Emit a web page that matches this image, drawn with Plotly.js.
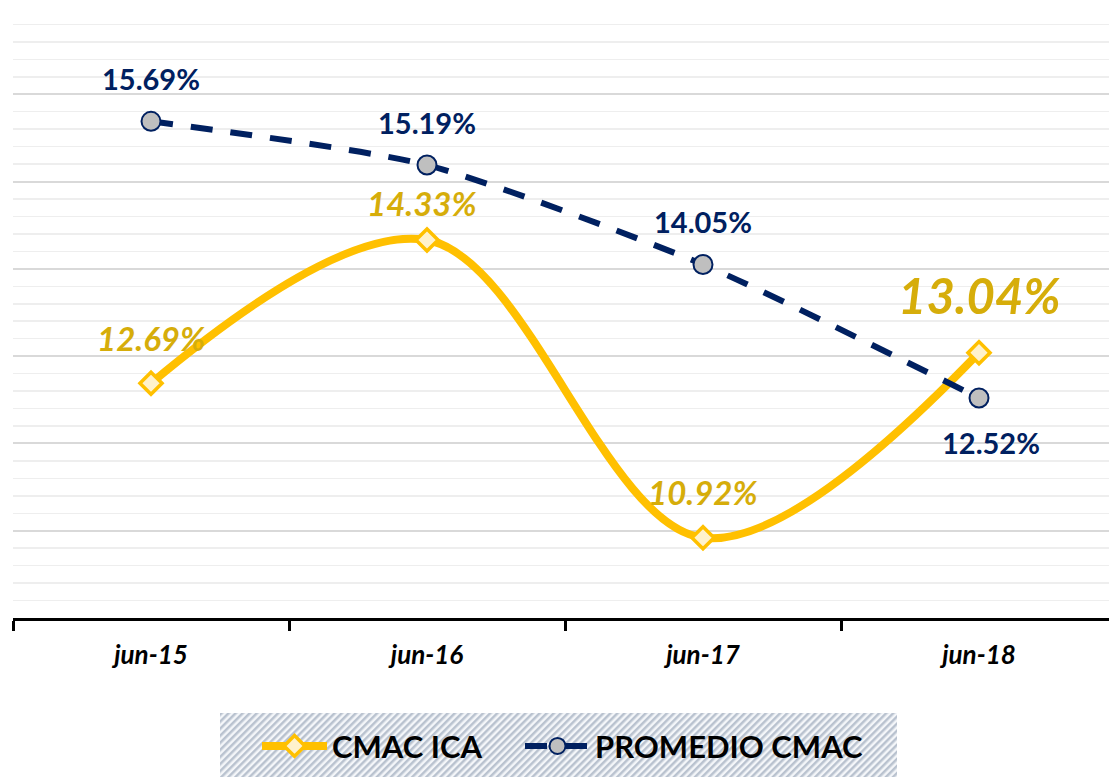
<!DOCTYPE html>
<html>
<head>
<meta charset="utf-8">
<script src="https://cdn.plot.ly/plotly-3.0.1.min.js"></script>
<style>html,body{margin:0;padding:0;background:#fff;}#chart{width:1109px;height:777px;}</style>
</head>
<body>
<div id="chart"></div>
<script>
// ---- data ----
var categories = ['jun-15', 'jun-16', 'jun-17', 'jun-18'];
var cmacIca = [12.69, 14.33, 10.92, 13.04];
var promedioCmac = [15.69, 15.19, 14.05, 12.52];
var seriesNames = ['CMAC ICA', 'PROMEDIO CMAC'];

// ---- styling ----
var FONT = 'Lato, "Noto Sans", "DejaVu Sans", sans-serif';
var GOLD = '#FFC000';
var GOLD_TEXT = '#D6AD0A';
var NAVY = '#002060';

var traces = [
  {
    x: categories, y: cmacIca, name: seriesNames[0], type: 'scatter', mode: 'lines+markers',
    legend: 'legend',
    line: {color: GOLD, width: 8, shape: 'spline', smoothing: 1},
    marker: {symbol: 'diamond', size: 17, color: '#FFF2CC', line: {color: GOLD, width: 3.5}},
    hoverinfo: 'skip'
  },
  {
    x: categories, y: promedioCmac, name: seriesNames[1], type: 'scatter', mode: 'lines+markers',
    legend: 'legend2',
    line: {color: NAVY, width: 6, dash: '22px,18px', shape: 'spline', smoothing: 0.6},
    marker: {symbol: 'circle', size: 19, color: '#BFBFBF', line: {color: NAVY, width: 2}},
    hoverinfo: 'skip'
  }
];

// label offsets (style only): [xshift, yshift, font size]
var icaShift = [[0, 45, 33], [-5, 37, 33], [0, 46, 33], [0, 58, 49]];
var promShift = [[0, 43, 29], [0, 42, 29], [0, 43, 29], [12, -44, 29]];

var annotations = [];
categories.forEach(function (c, i) {
  annotations.push({
    x: c, y: cmacIca[i], xref: 'x', yref: 'y', text: cmacIca[i].toFixed(2) + '%', showarrow: false,
    xanchor: 'center', yanchor: 'middle', xshift: icaShift[i][0], yshift: icaShift[i][1],
    font: {family: FONT, size: icaShift[i][2], color: GOLD_TEXT, weight: 'bold', style: 'italic'}
  });
  annotations.push({
    x: c, y: promedioCmac[i], xref: 'x', yref: 'y', text: promedioCmac[i].toFixed(2) + '%', showarrow: false,
    xanchor: 'center', yanchor: 'middle', xshift: promShift[i][0], yshift: promShift[i][1],
    font: {family: FONT, size: promShift[i][2], color: NAVY, weight: 'bold'}
  });
});

var hatch = '<svg xmlns="http://www.w3.org/2000/svg" width="677" height="64">' +
  '<defs><pattern id="p" width="5" height="5" patternUnits="userSpaceOnUse" patternTransform="rotate(45)">' +
  '<rect width="5" height="5" fill="#F4F6F9"/><rect width="2.5" height="5" fill="#B9C2CF"/></pattern></defs>' +
  '<rect width="677" height="64" fill="url(#p)"/></svg>';

var legendFont = {family: FONT, size: 31, color: '#000000', weight: 'bold'};

var layout = {
  width: 1109, height: 777,
  margin: {l: 13, r: 0, t: 7, b: 159},
  paper_bgcolor: '#ffffff', plot_bgcolor: '#ffffff',
  showlegend: true,
  xaxis: {
    type: 'category', range: [-0.5, 3.471], tickson: 'boundaries',
    showline: true, linecolor: '#000000', linewidth: 3,
    ticks: 'outside', ticklen: 10, tickwidth: 3, tickcolor: '#000000',
    showgrid: false, zeroline: false, ticklabelstandoff: 12,
    tickfont: {family: FONT, size: 26, color: '#000000', weight: 'bold', style: 'italic'}
  },
  yaxis: {
    range: [10, 17], dtick: 1, showticklabels: false, zeroline: false, showline: false, ticks: '',
    showgrid: true, gridcolor: '#D9D9D9', gridwidth: 2,
    minor: {dtick: 0.2, showgrid: true, gridcolor: '#EEEEEE', gridwidth: 1.5}
  },
  legend: {
    orientation: 'h', x: (257 - 13) / 1096, xanchor: 'left', y: -0.21, yanchor: 'middle',
    bgcolor: 'rgba(0,0,0,0)', itemwidth: 65, font: legendFont
  },
  legend2: {
    orientation: 'h', x: (520 - 13) / 1096, xanchor: 'left', y: -0.21, yanchor: 'middle',
    bgcolor: 'rgba(0,0,0,0)', itemwidth: 65, font: legendFont
  },
  annotations: annotations,
  images: [{
    source: 'data:image/svg+xml;charset=utf-8,' + encodeURIComponent(hatch),
    xref: 'paper', yref: 'paper', x: (220 - 13) / 1096, y: (618 - 713) / 611,
    sizex: 677 / 1096, sizey: 64 / 611, sizing: 'stretch', xanchor: 'left', yanchor: 'top', layer: 'below'
  }]
};

Plotly.newPlot('chart', traces, layout, {displayModeBar: false, staticPlot: true});
</script>
</body>
</html>
